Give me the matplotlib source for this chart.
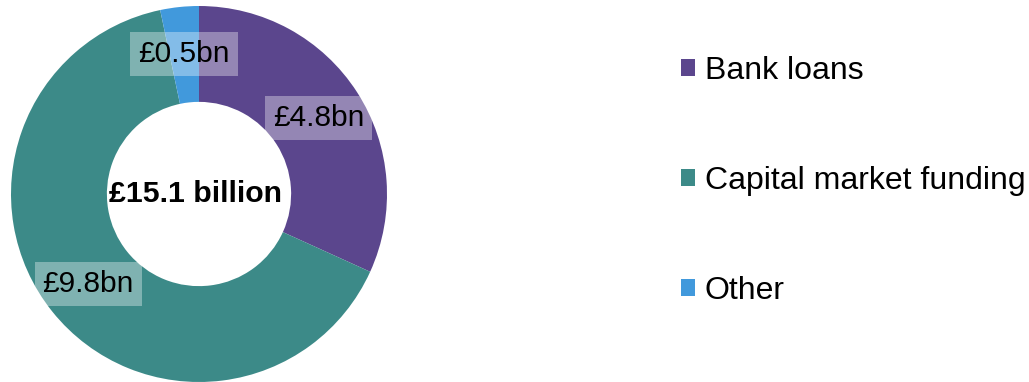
import numpy as np
import matplotlib
matplotlib.use('Agg')
import matplotlib.pyplot as plt

plt.rc('font', family=['Liberation Sans', 'DejaVu Sans'])

categories = ['Bank loans', 'Capital market funding', 'Other']
values = [4.8, 9.8, 0.5]
labels = ['£4.8bn', '£9.8bn', '£0.5bn']
colors = ['#5B468D', '#3C8A88', '#4199DC']
total_label = '£15.1 billion'

fig = plt.figure(figsize=(10.29, 3.82), dpi=100)
# donut axes: centre (199, 194) px, radius 188 px
ax = fig.add_axes([11 / 1029, 0 / 382, 376 / 1029, 376 / 382])

wedges, _ = ax.pie(values, colors=colors, startangle=90, counterclock=False,
                   radius=1.0, wedgeprops=dict(width=0.51, linewidth=0))

for w, lab in zip(wedges, labels):
    mid = np.deg2rad((w.theta1 + w.theta2) / 2)
    r = 0.755
    ax.text(r * np.cos(mid), r * np.sin(mid) - 0.005, lab, ha='center',
            va='center', fontsize=21.5, color='black',
            bbox=dict(boxstyle='square,pad=0.27', facecolor='white',
                      edgecolor='none', alpha=0.35))

ax.text(-0.02, 0, total_label, ha='center', va='center', fontsize=21.8,
        fontweight='bold')
ax.set_xlim(-1, 1)
ax.set_ylim(-1, 1)
ax.set_aspect('equal')
ax.axis('off')

fig.legend(wedges, categories, loc='center left',
           bbox_to_anchor=(681 / 1029, (382 - 181) / 382),
           frameon=False, fontsize=23, handlelength=0.45, handleheight=0.45,
           handletextpad=0.3, labelspacing=2.5, borderpad=0, borderaxespad=0)

fig.savefig('out.png', dpi=100)
